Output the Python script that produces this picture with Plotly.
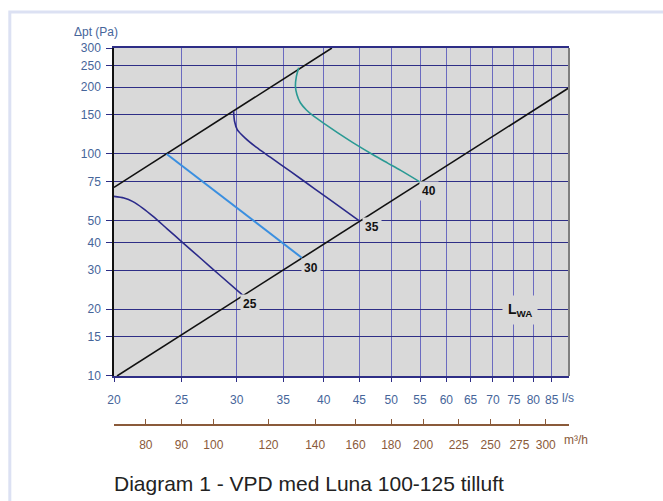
import numpy as np
import plotly.graph_objects as go

# ---- data ----
x_ticks_ls = [20, 25, 30, 35, 40, 45, 50, 55, 60, 65, 70, 75, 80, 85]
y_ticks_pa = [10, 15, 20, 30, 40, 50, 75, 100, 150, 200, 250, 300]
x2_ticks_m3h = [80, 90, 100, 120, 140, 160, 180, 200, 225, 250, 275, 300]
x_range_ls = [20, 90]
y_range_pa = [10, 300]

upper_q = [20, 41.1]
upper_p = [70.7, 300]
lower_q = [20.2, 90]
lower_p = [10, 198.6]

c25_q = [20.0, 20.67, 21.29, 22.01, 22.76, 23.84, 25.05, 26.60, 28.41, 30.66]
c25_p = [64.4, 63.3, 61.0, 56.9, 52.3, 46.0, 40.1, 34.0, 28.35, 23.0]

c30_q = [23.8, 37.2]
c30_p = [100, 34.1]

c35_q = [29.70, 29.79, 30.06, 30.86, 32.0, 33.53, 35.84, 38.92, 42.01, 45.0]
c35_p = [155.7, 140.4, 128.8, 117.9, 107.3, 96.7, 83.4, 69.3, 58.4, 50.0]

c40_q = [36.83, 36.55, 36.43, 36.61, 37.03, 37.78, 38.70, 40.37, 42.29, 44.59, 47.22, 49.43, 51.59, 55.1]
c40_p = [244.6, 223.5, 202.0, 185.3, 170.0, 157.7, 147.9, 134.9, 122.2, 109.8, 98.6, 90.9, 84.3, 74.5]

labels = ["25", "30", "35", "40"]
label_q = [31.4, 38.3, 47.0, 56.7]
label_p = [21.1, 30.6, 47.1, 68.3]

lwa_q, lwa_p = 76.5, 19.8
M3H_PER_LS = 3.6

NAVY = "#2E2E86"
VGRID = "#6B6BC0"
TICKBLUE = "#46659A"
BROWN = "#8A5A3A"
BG = "#D9D9D9"

fig = go.Figure()
fig.add_trace(go.Scatter(x=upper_q, y=upper_p, mode="lines", line=dict(color="#111111", width=1.6), hoverinfo="skip"))
fig.add_trace(go.Scatter(x=lower_q, y=lower_p, mode="lines", line=dict(color="#111111", width=1.6), hoverinfo="skip"))
fig.add_trace(go.Scatter(x=c25_q, y=c25_p, mode="lines", line=dict(color="#2B2A8A", width=1.6, shape="spline", smoothing=0.8), hoverinfo="skip"))
fig.add_trace(go.Scatter(x=c30_q, y=c30_p, mode="lines", line=dict(color="#3A8FE0", width=2), hoverinfo="skip"))
fig.add_trace(go.Scatter(x=c35_q, y=c35_p, mode="lines", line=dict(color="#2B2A8A", width=1.6, shape="spline", smoothing=0.8), hoverinfo="skip"))
fig.add_trace(go.Scatter(x=c40_q, y=c40_p, mode="lines", line=dict(color="#2A9A94", width=1.6, shape="spline", smoothing=0.8), hoverinfo="skip"))
# invisible trace to carry the secondary m3/h axis
fig.add_trace(go.Scatter(x=[v * M3H_PER_LS for v in x_range_ls], y=y_range_pa, xaxis="x2", mode="lines",
                         line=dict(width=0), opacity=0, hoverinfo="skip"))

font_base = dict(family="Liberation Sans, Arial, sans-serif")

annotations = []
for t, q, p in zip(labels, label_q, label_p):
    annotations.append(dict(x=np.log10(q), y=np.log10(p), xref="x", yref="y", text=f"<b>{t}</b>",
                            showarrow=False, font=dict(size=12, color="#111111", **font_base),
                            bgcolor=BG, borderpad=2))
annotations.append(dict(x=np.log10(lwa_q), y=np.log10(lwa_p), xref="x", yref="y",
                        text="<b>L<sub>WA</sub></b>", showarrow=False,
                        font=dict(size=14, color="#111111", **font_base), bgcolor=BG, borderpad=5))
annotations.append(dict(x=-0.092, y=1.042, xref="paper", yref="paper", xanchor="left", yanchor="middle",
                        text="Δpt (Pa)", showarrow=False, font=dict(size=12, color=TICKBLUE, **font_base)))
annotations.append(dict(x=0.98, y=0.0716, xref="paper", yref="paper", xanchor="left", yanchor="middle",
                        text="l/s", showarrow=False, font=dict(size=12, color=TICKBLUE, **font_base)))
annotations.append(dict(x=0.9846, y=-0.041, xref="paper", yref="paper", xanchor="left", yanchor="middle",
                        text="m³/h", showarrow=False, font=dict(size=12, color=BROWN, **font_base)))
annotations.append(dict(x=-0.004, y=-0.154, xref="paper", yref="paper", xanchor="left", yanchor="middle",
                        text="Diagram 1 - VPD med Luna 100-125 tilluft", showarrow=False,
                        font=dict(size=21, color="#222222", **font_base)))

shapes = [
    # outer light frame
    dict(type="rect", xref="paper", yref="paper", x0=-0.229, x1=1.4, y0=-0.4, y1=1.0955,
         line=dict(color="#DCE1F3", width=3), fillcolor="rgba(0,0,0,0)", layer="below"),
    # right border of plot area
    dict(type="line", xref="x domain", yref="y domain", x0=1, x1=1, y0=0, y1=1,
         line=dict(color="#7F7F7F", width=2)),
]

fig.update_layout(
    width=663, height=501,
    margin=dict(l=114, r=94, t=48, b=76),
    paper_bgcolor="white", plot_bgcolor=BG,
    showlegend=False,
    annotations=annotations, shapes=shapes,
    xaxis=dict(type="log", range=[np.log10(x_range_ls[0]), np.log10(x_range_ls[1])],
               tickvals=x_ticks_ls, ticktext=[str(v) for v in x_ticks_ls],
               showgrid=True, gridcolor=VGRID, gridwidth=1,
               showline=True, linecolor=NAVY, linewidth=1.5, mirror=True,
               ticks="outside", ticklen=4, tickcolor=NAVY, ticklabelstandoff=8,
               tickfont=dict(size=12, color=TICKBLUE, **font_base), anchor="y", zeroline=False),
    xaxis2=dict(type="log", overlaying="x", anchor="free", position=0, side="bottom",
                range=[np.log10(x_range_ls[0] * M3H_PER_LS), np.log10(x_range_ls[1] * M3H_PER_LS)],
                tickvals=x2_ticks_m3h, ticktext=[str(v) for v in x2_ticks_m3h],
                showgrid=False, showline=True, linecolor=BROWN, linewidth=1.5,
                ticks="inside", ticklen=5, tickcolor=BROWN, ticklabelstandoff=9,
                tickfont=dict(size=12, color=BROWN, **font_base), zeroline=False),
    yaxis=dict(type="log", range=[np.log10(y_range_pa[0]), np.log10(y_range_pa[1])],
               domain=[0.130, 1],
               tickvals=y_ticks_pa, ticktext=[str(v) for v in y_ticks_pa],
               showgrid=True, gridcolor=NAVY, gridwidth=1,
               showline=True, linecolor="#111111", linewidth=1.5,
               ticks="outside", ticklen=6, tickcolor=NAVY, ticklabelstandoff=3,
               tickfont=dict(size=12, color=TICKBLUE, **font_base), zeroline=False),
)

fig.write_html("out.html")
